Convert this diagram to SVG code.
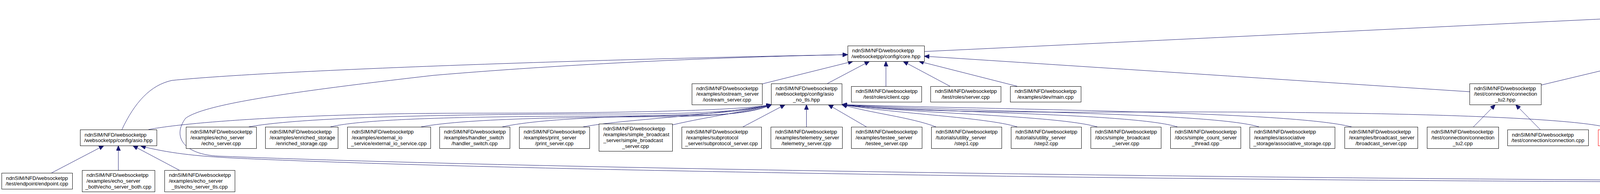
<svg xmlns="http://www.w3.org/2000/svg" width="6673" height="497" viewBox="0 0 6673 497">
<defs>
<style>
.n rect{fill:#ffffff;stroke:#000000;stroke-width:1}
.n.root rect{fill:#bfbfbf}
.n.red rect{stroke:#ff0000}
text{font-family:"Liberation Sans",Arial,Helvetica,sans-serif;font-size:13.33px;fill:#000000}
text.c{text-anchor:middle}
#edges path{fill:none;stroke:#191970;stroke-width:1;marker-end:url(#ah)}
</style>
<marker id="ah" viewBox="0 0 13 11" refX="13" refY="5.5" markerWidth="13" markerHeight="11" orient="auto" markerUnits="userSpaceOnUse"><path d="M0,0 L13,5.5 L0,11 Z" fill="#191970" stroke="#191970" stroke-width="1"/></marker>
</defs>
<rect x="0" y="0" width="6673" height="497" fill="#ffffff"/>
<g id="edges">
<path d="M2366,132 C3000,102 3700,68 4322,38"/>
<path d="M4310,117 L4379,61"/>
<path d="M4631,109 L4494,61"/>
<path d="M5220,126 C5000,98 4750,70 4503,45"/>
<path d="M312,332 C345,262 385,218 440,206 C700,180 1500,152 2170,140"/>
<path d="M4288,462 C3000,455 1300,430 560,400 C470,396 440,350 475,303 C520,270 700,240 1110,193 C1500,160 1900,145 2170,140"/>
<path d="M4288,466 C3000,462 1300,438 600,405 C500,400 430,392 360,374"/>
<path d="M4417,443 C4475,405 4510,360 4540,317 C4585,255 4640,205 4679,164"/>
<path d="M4384.5,443 L4384.5,380"/>
<path d="M4481,462 C5400,448 6200,420 6400,380"/>
<path d="M132,443 L266,373"/>
<path d="M303,436 L303,373"/>
<path d="M459,436 L340,373"/>
<path d="M380,332 C480,312 800,290 1200,290 C1600,290 1900,283 1975,268"/>
<path d="M637,325 C800,295 1300,292 1600,292 C1800,292 1920,283 1975,268"/>
<path d="M846,325 C950,300 1300,298 1600,297 C1800,296 1920,285 1975,268"/>
<path d="M1078,325 C1200,302 1500,300 1700,299 C1850,298 1930,287 1975,268"/>
<path d="M1286,325 C1400,300 1650,297 1800,295 C1880,293 1940,285 1975,268"/>
<path d="M1493,325 C1600,305 1800,300 1975,268"/>
<path d="M1721,320 C1820,297 1920,285 1975,268"/>
<path d="M1902,325 L2010,268"/>
<path d="M2064.5,325 L2064.5,268"/>
<path d="M2218,325 L2120,268"/>
<path d="M2396,325 C2330,300 2230,290 2155,268"/>
<path d="M2604,325 C2520,300 2300,292 2155,268"/>
<path d="M2809,325 C2700,295 2350,292 2155,268"/>
<path d="M3014,325 C2900,290 2400,290 2155,268"/>
<path d="M3223,325 C3100,288 2500,288 2155,268"/>
<path d="M3460,325 C3300,285 2600,282 2155,268"/>
<path d="M4132,332 C4050,295 3400,285 2900,287 C2500,289 2250,282 2155,268"/>
<path d="M4231,332 C4320,305 4700,270 5162,246"/>
<path d="M4714,325 C4850,295 5050,265 5162,252"/>
<path d="M4921,325 C5000,300 5100,278 5162,262"/>
<path d="M5099,325 L5200,268"/>
<path d="M5252,325 L5252,268"/>
<path d="M5405,325 L5303,268"/>
<path d="M5583,325 C5530,305 5420,285 5342,268"/>
<path d="M5790,325 C5700,300 5450,290 5342,268"/>
<path d="M5996,325 C5900,295 5500,290 5342,268"/>
<path d="M6202,325 C6100,295 5550,292 5342,268"/>
<path d="M6405,325 C6300,300 5600,300 5342,268"/>
<path d="M6405,325 C6300,298 6100,283 5900,283 C5650,283 5470,287 5410,255 C5370,232 5350,200 5250,186 C5100,162 4920,144 4802,140"/>
<path d="M5162,224 C5050,200 4900,175 4802,158"/>
<path d="M5461,214 L5372,164"/>
<path d="M3762,235 C3300,205 2800,172 2366,144"/>
<path d="M3945,218 L4200,157"/>
<path d="M3943,332 L3880,268"/>
<path d="M3772,325 L3828,268"/>
<path d="M4271,214 L4279,157"/>
<path d="M4387,325 C4390,255 4372,200 4322,157"/>
<path d="M4354,325 L4295,268"/>
<path d="M1951,215 L2184,157"/>
<path d="M2118,214 L2226,157"/>
<path d="M2268,221 L2268,157"/>
<path d="M2432,221 L2312,157"/>
<path d="M2604,221 L2352,157"/>
<path d="M6400,436 L6452,380"/>
<path d="M6552,436 L6502,380"/>
</g>

<g id="n-root" class="n root"><rect x="4322.5" y="6.5" width="181" height="55"/><text x="4333.5" y="23.2">ndnSIM/NFD/websocketpp</text><text x="4333.5" y="37.9">/websocketpp/connection</text><text class="c" x="4412.5" y="52.6">_base.hpp</text></g>

<g id="n-core" class="n"><rect x="2170.5" y="117.5" width="196" height="40"/><text x="2181.5" y="134">ndnSIM/NFD/websocketpp</text><text class="c" x="2268" y="148.7">/websocketpp/config/core.hpp</text></g>
<g id="n-debug" class="n"><rect x="4181.5" y="117.5" width="207" height="40"/><text x="4192.5" y="134">ndnSIM/NFD/websocketpp</text><text class="c" x="4284.5" y="148.7">/websocketpp/config/debug.hpp</text></g>
<g id="n-core-client" class="n"><rect x="4619.5" y="109.5" width="181" height="55"/><text x="4630.5" y="126.2">ndnSIM/NFD/websocketpp</text><text x="4630.5" y="140.9">/websocketpp/config/core</text><text class="c" x="4709.5" y="155.6">_client.hpp</text></g>
<g id="n-minimal-server" class="n"><rect x="5220.5" y="109.5" width="191" height="55"/><text x="5231.5" y="126.2">ndnSIM/NFD/websocketpp</text><text x="5231.5" y="140.9">/websocketpp/config/minimal</text><text class="c" x="5315.5" y="155.6">_server.hpp</text></g>

<g id="n-iostream-server" class="n"><rect x="1771.5" y="214.5" width="180" height="54"/><text x="1782.5" y="230.7">ndnSIM/NFD/websocketpp</text><text x="1782.5" y="245.4">/examples/iostream_server</text><text class="c" x="1861" y="260.1">/iostream_server.cpp</text></g>
<g id="n-asio-no-tls" class="n"><rect x="1974.5" y="214.5" width="181" height="54"/><text x="1985.5" y="230.7">ndnSIM/NFD/websocketpp</text><text x="1985.5" y="245.4">/websocketpp/config/asio</text><text class="c" x="2064.5" y="260.1">_no_tls.hpp</text></g>
<g id="n-roles-client" class="n"><rect x="2179.5" y="221.5" width="180" height="40"/><text x="2190.5" y="238">ndnSIM/NFD/websocketpp</text><text class="c" x="2269" y="252.7">/test/roles/client.cpp</text></g>
<g id="n-roles-server" class="n"><rect x="2382.5" y="221.5" width="180" height="40"/><text x="2393.5" y="238">ndnSIM/NFD/websocketpp</text><text class="c" x="2472" y="252.7">/test/roles/server.cpp</text></g>
<g id="n-dev-main" class="n"><rect x="2586.5" y="221.5" width="181" height="40"/><text x="2597.5" y="238">ndnSIM/NFD/websocketpp</text><text class="c" x="2676.5" y="252.7">/examples/dev/main.cpp</text></g>
<g id="n-connection-tu2-hpp" class="n"><rect x="3762.5" y="214.5" width="183" height="54"/><text x="3773.5" y="230.7">ndnSIM/NFD/websocketpp</text><text x="3773.5" y="245.4">/test/connection/connection</text><text class="c" x="3853.5" y="260.1">_tu2.hpp</text></g>
<g id="n-debug-asio-no-tls" class="n red"><rect x="4175.5" y="214.5" width="182" height="54"/><text x="4186.5" y="230.7">ndnSIM/NFD/websocketpp</text><text x="4186.5" y="245.4">/websocketpp/config/debug</text><text class="c" x="4266" y="260.1">_asio_no_tls.hpp</text></g>
<g id="n-asio-no-tls-client" class="n red"><rect x="5162.5" y="214.5" width="180" height="54"/><text x="5173.5" y="230.7">ndnSIM/NFD/websocketpp</text><text x="5173.5" y="245.4">/websocketpp/config/asio</text><text class="c" x="5252" y="260.1">_no_tls_client.hpp</text></g>
<g id="n-minimal-client" class="n"><rect x="5418.5" y="214.5" width="191" height="54"/><text x="5429.5" y="230.7">ndnSIM/NFD/websocketpp</text><text x="5429.5" y="245.4">/websocketpp/config/minimal</text><text class="c" x="5513.5" y="260.1">_client.hpp</text></g>

<g id="n-asio" class="n"><rect x="205.5" y="332.5" width="196" height="41"/><text x="216.5" y="349.5">ndnSIM/NFD/websocketpp</text><text class="c" x="303" y="364.2">/websocketpp/config/asio.hpp</text></g>
<g id="n-echo-server" class="n"><rect x="476.5" y="325.5" width="180" height="55"/><text x="487.5" y="342.2">ndnSIM/NFD/websocketpp</text><text x="487.5" y="356.9">/examples/echo_server</text><text class="c" x="566" y="371.6">/echo_server.cpp</text></g>
<g id="n-enriched-storage" class="n"><rect x="679.5" y="325.5" width="186" height="55"/><text x="690.5" y="342.2">ndnSIM/NFD/websocketpp</text><text x="690.5" y="356.9">/examples/enriched_storage</text><text class="c" x="772" y="371.6">/enriched_storage.cpp</text></g>
<g id="n-external-io" class="n"><rect x="889.5" y="325.5" width="213" height="55"/><text x="900.5" y="342.2">ndnSIM/NFD/websocketpp</text><text x="900.5" y="356.9">/examples/external_io</text><text class="c" x="995.5" y="371.6">_service/external_io_service.cpp</text></g>
<g id="n-handler-switch" class="n"><rect x="1125.5" y="325.5" width="180" height="55"/><text x="1136.5" y="342.2">ndnSIM/NFD/websocketpp</text><text x="1136.5" y="356.9">/examples/handler_switch</text><text class="c" x="1215" y="371.6">/handler_switch.cpp</text></g>
<g id="n-print-server" class="n"><rect x="1329.5" y="325.5" width="180" height="55"/><text x="1340.5" y="342.2">ndnSIM/NFD/websocketpp</text><text x="1340.5" y="356.9">/examples/print_server</text><text class="c" x="1419" y="371.6">/print_server.cpp</text></g>
<g id="n-simple-broadcast-server" class="n"><rect x="1533.5" y="317.5" width="188" height="70"/><text x="1544.5" y="334.4">ndnSIM/NFD/websocketpp</text><text x="1544.5" y="349.1">/examples/simple_broadcast</text><text x="1544.5" y="363.8">_server/simple_broadcast</text><text class="c" x="1627" y="378.5">_server.cpp</text></g>
<g id="n-subprotocol-server" class="n"><rect x="1745.5" y="325.5" width="204" height="55"/><text x="1756.5" y="342.2">ndnSIM/NFD/websocketpp</text><text x="1756.5" y="356.9">/examples/subprotocol</text><text class="c" x="1847" y="371.6">_server/subprotocol_server.cpp</text></g>
<g id="n-telemetry-server" class="n"><rect x="1973.5" y="325.5" width="183" height="55"/><text x="1984.5" y="342.2">ndnSIM/NFD/websocketpp</text><text x="1984.5" y="356.9">/examples/telemetry_server</text><text class="c" x="2064.5" y="371.6">/telemetry_server.cpp</text></g>
<g id="n-testee-server" class="n"><rect x="2179.5" y="325.5" width="181" height="55"/><text x="2190.5" y="342.2">ndnSIM/NFD/websocketpp</text><text x="2190.5" y="356.9">/examples/testee_server</text><text class="c" x="2269.5" y="371.6">/testee_server.cpp</text></g>
<g id="n-utility-server-step1" class="n"><rect x="2384.5" y="325.5" width="180" height="55"/><text x="2395.5" y="342.2">ndnSIM/NFD/websocketpp</text><text x="2395.5" y="356.9">/tutorials/utility_server</text><text class="c" x="2474" y="371.6">/step1.cpp</text></g>
<g id="n-utility-server-step2" class="n"><rect x="2588.5" y="325.5" width="180" height="55"/><text x="2599.5" y="342.2">ndnSIM/NFD/websocketpp</text><text x="2599.5" y="356.9">/tutorials/utility_server</text><text class="c" x="2678" y="371.6">/step2.cpp</text></g>
<g id="n-docs-simple-broadcast" class="n"><rect x="2792.5" y="325.5" width="180" height="55"/><text x="2803.5" y="342.2">ndnSIM/NFD/websocketpp</text><text x="2803.5" y="356.9">/docs/simple_broadcast</text><text class="c" x="2882" y="371.6">_server.cpp</text></g>
<g id="n-docs-simple-count" class="n"><rect x="2996.5" y="325.5" width="180" height="55"/><text x="3007.5" y="342.2">ndnSIM/NFD/websocketpp</text><text x="3007.5" y="356.9">/docs/simple_count_server</text><text class="c" x="3086" y="371.6">_thread.cpp</text></g>
<g id="n-associative-storage" class="n"><rect x="3199.5" y="325.5" width="218" height="55"/><text x="3210.5" y="342.2">ndnSIM/NFD/websocketpp</text><text x="3210.5" y="356.9">/examples/associative</text><text class="c" x="3308" y="371.6">_storage/associative_storage.cpp</text></g>
<g id="n-broadcast-server" class="n"><rect x="3442.5" y="325.5" width="187" height="55"/><text x="3453.5" y="342.2">ndnSIM/NFD/websocketpp</text><text x="3453.5" y="356.9">/examples/broadcast_server</text><text class="c" x="3535.5" y="371.6">/broadcast_server.cpp</text></g>
<g id="n-connection-tu2-cpp" class="n"><rect x="3653.5" y="325.5" width="183" height="55"/><text x="3664.5" y="342.2">ndnSIM/NFD/websocketpp</text><text x="3664.5" y="356.9">/test/connection/connection</text><text class="c" x="3744.5" y="371.6">_tu2.cpp</text></g>
<g id="n-connection-cpp" class="n"><rect x="3859.5" y="332.5" width="207" height="41"/><text x="3870.5" y="349.5">ndnSIM/NFD/websocketpp</text><text class="c" x="3962.5" y="364.2">/test/connection/connection.cpp</text></g>
<g id="n-face-websocketpp" class="n red"><rect x="4091.5" y="332.5" width="179" height="41"/><text x="4102.5" y="349.5">ndnSIM/NFD/daemon/face</text><text class="c" x="4180.5" y="364.2">/websocketpp.hpp</text></g>
<g id="n-debug-asio" class="n"><rect x="4294.5" y="325.5" width="181" height="55"/><text x="4305.5" y="342.2">ndnSIM/NFD/websocketpp</text><text x="4305.5" y="356.9">/websocketpp/config/debug</text><text class="c" x="4384.5" y="371.6">_asio.hpp</text></g>
<g id="n-utility-client-step3" class="n"><rect x="4550.5" y="325.5" width="180" height="55"/><text x="4561.5" y="342.2">ndnSIM/NFD/websocketpp</text><text x="4561.5" y="356.9">/tutorials/utility_client</text><text class="c" x="4640" y="371.6">/step3.cpp</text></g>
<g id="n-echo-client" class="n"><rect x="4754.5" y="325.5" width="181" height="55"/><text x="4765.5" y="342.2">ndnSIM/NFD/websocketpp</text><text x="4765.5" y="356.9">/examples/echo_client</text><text class="c" x="4844.5" y="371.6">/echo_client.cpp</text></g>
<g id="n-print-client" class="n"><rect x="4958.5" y="325.5" width="181" height="55"/><text x="4969.5" y="342.2">ndnSIM/NFD/websocketpp</text><text x="4969.5" y="356.9">/examples/print_client</text><text class="c" x="5048.5" y="371.6">/print_client.cpp</text></g>
<g id="n-scratch-client" class="n"><rect x="5162.5" y="325.5" width="180" height="55"/><text x="5173.5" y="342.2">ndnSIM/NFD/websocketpp</text><text x="5173.5" y="356.9">/examples/scratch_client</text><text class="c" x="5252" y="371.6">/scratch_client.cpp</text></g>
<g id="n-sip-client" class="n"><rect x="5366.5" y="325.5" width="180" height="55"/><text x="5377.5" y="342.2">ndnSIM/NFD/websocketpp</text><text x="5377.5" y="356.9">/examples/sip_client/sip</text><text class="c" x="5456" y="371.6">_client.cpp</text></g>
<g id="n-telemetry-client" class="n"><rect x="5570.5" y="325.5" width="181" height="55"/><text x="5581.5" y="342.2">ndnSIM/NFD/websocketpp</text><text x="5581.5" y="356.9">/examples/telemetry_client</text><text class="c" x="5660.5" y="371.6">/telemetry_client.cpp</text></g>
<g id="n-testee-client" class="n"><rect x="5774.5" y="325.5" width="181" height="55"/><text x="5785.5" y="342.2">ndnSIM/NFD/websocketpp</text><text x="5785.5" y="356.9">/examples/testee_client</text><text class="c" x="5864.5" y="371.6">/testee_client.cpp</text></g>
<g id="n-utility-client" class="n"><rect x="5978.5" y="325.5" width="180" height="55"/><text x="5989.5" y="342.2">ndnSIM/NFD/websocketpp</text><text x="5989.5" y="356.9">/examples/utility_client</text><text class="c" x="6068" y="371.6">/utility_client.cpp</text></g>
<g id="n-utility-client-step2" class="n"><rect x="6183.5" y="325.5" width="179" height="55"/><text x="6194.5" y="342.2">ndnSIM/NFD/websocketpp</text><text x="6194.5" y="356.9">/tutorials/utility_client</text><text class="c" x="6272.5" y="371.6">/step2.cpp</text></g>
<g id="n-asio-client" class="n"><rect x="6386.5" y="325.5" width="181" height="55"/><text x="6397.5" y="342.2">ndnSIM/NFD/websocketpp</text><text x="6397.5" y="356.9">/websocketpp/config/asio</text><text class="c" x="6476.5" y="371.6">_client.hpp</text></g>

<g id="n-endpoint" class="n"><rect x="4.5" y="443.5" width="181" height="41"/><text x="15.5" y="460.5">ndnSIM/NFD/websocketpp</text><text class="c" x="94.5" y="475.2">/test/endpoint/endpoint.cpp</text></g>
<g id="n-echo-server-both" class="n"><rect x="210.5" y="436.5" width="186" height="55"/><text x="221.5" y="453.2">ndnSIM/NFD/websocketpp</text><text x="221.5" y="467.9">/examples/echo_server</text><text class="c" x="303" y="482.6">_both/echo_server_both.cpp</text></g>
<g id="n-echo-server-tls" class="n"><rect x="421.5" y="436.5" width="180" height="55"/><text x="432.5" y="453.2">ndnSIM/NFD/websocketpp</text><text x="432.5" y="467.9">/examples/echo_server</text><text class="c" x="511" y="482.6">_tls/echo_server_tls.cpp</text></g>
<g id="n-integration" class="n"><rect x="4288.5" y="443.5" width="193" height="41"/><text x="4299.5" y="460.5">ndnSIM/NFD/websocketpp</text><text class="c" x="4384.5" y="475.2">/test/transport/integration.cpp</text></g>
<g id="n-debug-client" class="n"><rect x="6283.5" y="436.5" width="181" height="55"/><text x="6294.5" y="453.2">ndnSIM/NFD/websocketpp</text><text x="6294.5" y="467.9">/examples/debug_client</text><text class="c" x="6373.5" y="482.6">/debug_client.cpp</text></g>
<g id="n-print-client-tls" class="n"><rect x="6487.5" y="436.5" width="181" height="55"/><text x="6498.5" y="453.2">ndnSIM/NFD/websocketpp</text><text x="6498.5" y="467.9">/examples/print_client</text><text class="c" x="6577.5" y="482.6">_tls/print_client_tls.cpp</text></g>
</svg>
